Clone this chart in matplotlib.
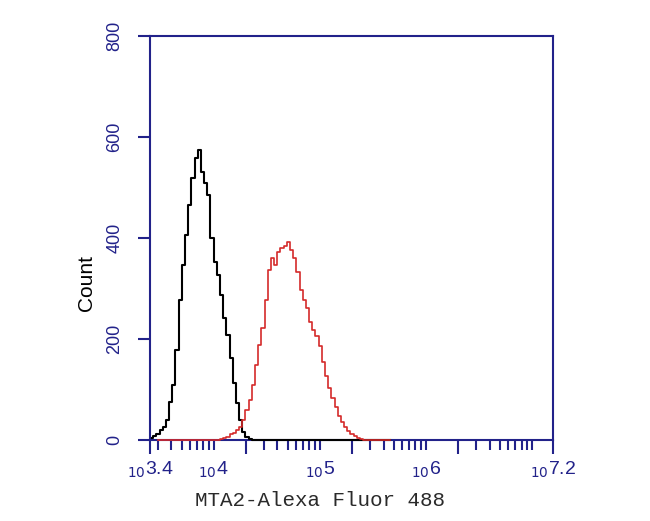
import numpy as np
import matplotlib
matplotlib.use("Agg")
import matplotlib.pyplot as plt

# histogram channels: log10 units, fixed bin width
bin_start = 3.4
bin_width = 0.03

# control (black) counts per bin, starting at 10^3.4
black_counts = [4, 8, 12, 20, 26, 40, 75, 109, 178, 277, 347, 406, 465, 519,
                558, 574, 531, 509, 485, 400, 352, 327, 287, 242, 208, 162,
                113, 73, 40, 16, 6, 2] + [0] * 44

# MTA2 stained (red) counts per bin
red_counts = [0] * 22 + [2, 4, 6, 12, 14, 20, 26, 40, 59, 79, 109, 149, 188,
                         222, 277, 337, 360, 347, 372, 380, 384, 392, 376,
                         360, 333, 297, 277, 261, 234, 218, 206, 186, 154,
                         127, 103, 83, 65, 48, 36, 26, 18, 12, 8, 4, 2] + [0] * 9

label_pos = [3.4, 4, 5, 6, 7.2]
label_txt = ["3.4", "4", "5", "6", "7.2"]

navy = "#22228a"

fig = plt.figure(figsize=(6.5, 5.21), dpi=100)
ax = fig.add_axes([150 / 650, 1 - 440 / 521, 403 / 650, 404 / 521])

xb = 10 ** (bin_start + bin_width * (np.arange(len(black_counts)) + 0.5))
xr = 10 ** (bin_start + bin_width * (np.arange(len(red_counts)) + 0.5))
ax.plot(xb, black_counts, drawstyle="steps-mid", color="black", lw=1.5,
        clip_on=False, zorder=4)
ax.plot(xr[2:], red_counts[2:], drawstyle="steps-mid", color="#d42a2a", lw=1.2,
        clip_on=False, zorder=5)

ax.set_xscale("log")
ax.set_xlim(10 ** 3.4, 10 ** 7.2)
ax.set_ylim(0, 800)

# tall ticks at ends and 2*10^n, short ticks elsewhere
major = [10 ** 3.4, 2e4, 2e5, 2e6, 10 ** 7.2]
minor = []
for e in range(3, 8):
    for m in range(1, 10):
        v = m * 10 ** e
        if 10 ** 3.4 < v < 10 ** 7.2 and m != 2:
            minor.append(v)
ax.set_xticks(major)
ax.set_xticks(minor, minor=True)
ax.set_xticklabels([])
ax.set_xticklabels([], minor=True)
ax.tick_params(axis="x", which="major", direction="out", length=10, width=1.5,
               color=navy)
ax.tick_params(axis="x", which="minor", direction="out", length=7, width=1.5,
               color=navy)

for p, t in zip(label_pos, label_txt):
    ax.text(10 ** p, -0.085, "$_{10}$" + t, transform=ax.get_xaxis_transform(),
            ha="center", va="baseline", fontsize=14, color=navy,
            family="Liberation Sans")

ax.set_yticks([0, 200, 400, 600, 800])
ax.tick_params(axis="y", direction="out", length=9, width=1.5, color=navy,
               labelcolor=navy, labelsize=13, pad=10, labelrotation=90)
for lab in ax.get_yticklabels():
    lab.set_va("center")
    lab.set_family("Liberation Sans")

for s in ax.spines.values():
    s.set_color(navy)
    s.set_linewidth(1.5)

fig.text(86 / 650, 1 - 283 / 521, "Count", rotation=90, ha="center",
         va="center", fontsize=15, family="Liberation Sans")
fig.text(320 / 650, 1 - 500 / 521, "MTA2-Alexa Fluor 488", ha="center",
         va="center", fontsize=15, family="Liberation Mono", color="#2a2a2a")

plt.savefig("out.png", dpi=100)
